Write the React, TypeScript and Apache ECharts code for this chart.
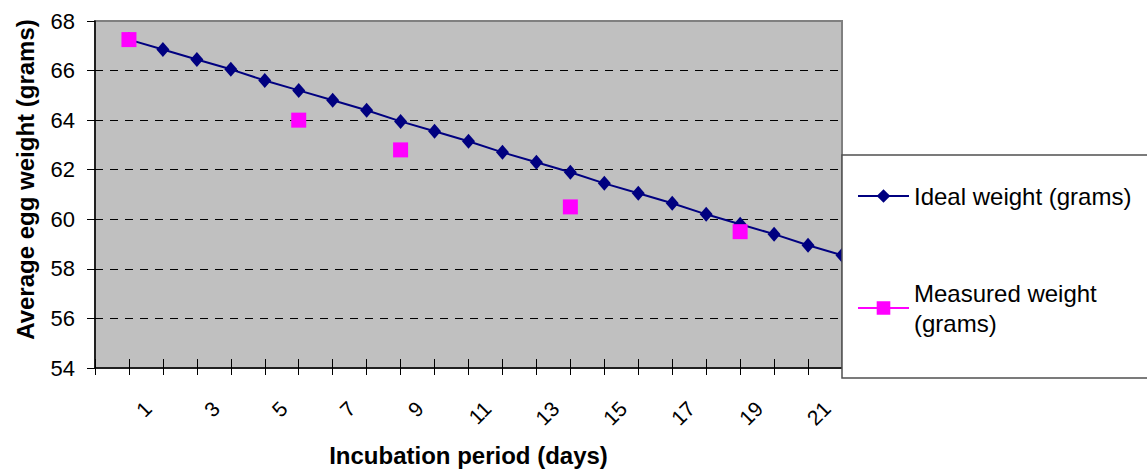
import React, { useEffect, useRef } from "react";
import * as echarts from "echarts";

const IDEAL_NAME = "Ideal weight (grams)";
const MEASURED_NAME = "Measured weight (grams)";
const X_TITLE = "Incubation period (days)";
const Y_TITLE = "Average egg weight (grams)";

const days = [1, 2, 3, 4, 5, 6, 7, 8, 9, 10, 11, 12, 13, 14, 15, 16, 17, 18, 19, 20, 21, 22];
const idealWeight = [
  67.25, 66.85, 66.45, 66.05, 65.6, 65.2, 64.8, 64.4, 63.95, 63.55, 63.15,
  62.7, 62.3, 61.9, 61.45, 61.05, 60.65, 60.2, 59.8, 59.4, 58.95, 58.55,
];
const measuredDays = [1, 6, 9, 14, 19];
const measuredWeight = [67.25, 64.0, 62.8, 60.5, 59.5];
const xTickLabels = ["1", "3", "5", "7", "9", "11", "13", "15", "17", "19", "21"];
const xMin = 0;
const xMax = 22;
const yMin = 54;
const yMax = 68;
const yStep = 2;

const FONT = "'Liberation Sans', Arial, sans-serif";

export default function App() {
  const ref = useRef<HTMLDivElement>(null);

  useEffect(() => {
    if (!ref.current) return;
    const chart = echarts.init(ref.current, null, { renderer: "svg" });

    const plotLeft = 95;
    const plotRight = 305;
    const plotTop = 21;
    const plotBottom = 101;
    const labelShift = 19;

    const option: any = {
      animation: false,
      backgroundColor: "#ffffff",
      textStyle: { fontFamily: FONT },
      grid: [
        {
          left: plotLeft,
          right: plotRight,
          top: plotTop,
          bottom: plotBottom,
          show: true,
          backgroundColor: "#C0C0C0",
          borderColor: "#808080",
          borderWidth: 2,
        },
        {
          left: plotLeft + labelShift,
          right: plotRight - labelShift,
          top: plotTop,
          bottom: plotBottom,
          show: false,
        },
      ],
      xAxis: [
        {
          gridIndex: 0,
          type: "value",
          position: "bottom",
          min: xMin,
          max: xMax,
          interval: 1,
          axisLine: { show: true, onZero: false, lineStyle: { color: "#000000", width: 1.5 } },
          axisTick: { show: true, inside: true, length: 9, lineStyle: { color: "#000000", width: 1 } },
          axisLabel: { show: false },
          splitLine: { show: false },
          name: X_TITLE,
          nameLocation: "middle",
          nameGap: 75,
          nameTextStyle: {
            fontFamily: FONT,
            fontSize: 24,
            fontWeight: "bold",
            color: "#000000",
          },
        },
        {
          gridIndex: 0,
          type: "value",
          position: "bottom",
          min: xMin,
          max: xMax,
          interval: 1,
          axisLine: { show: false, onZero: false },
          axisTick: { show: true, inside: false, length: 7, lineStyle: { color: "#000000", width: 1 } },
          axisLabel: { show: false },
          splitLine: { show: false },
        },
        {
          gridIndex: 1,
          type: "value",
          position: "bottom",
          min: xMin,
          max: xMax,
          interval: 1,
          axisLine: { show: false, onZero: false },
          axisTick: { show: false },
          splitLine: { show: false },
          axisLabel: {
            show: true,
            rotate: 45,
            margin: 34,
            fontFamily: FONT,
            fontSize: 21,
            color: "#000000",
            formatter: (v: number) => {
              const s = String(Math.round(v));
              return Math.abs(v - Math.round(v)) < 1e-6 && xTickLabels.indexOf(s) >= 0 ? s : "";
            },
          },
        },
      ],
      yAxis: [
        {
          gridIndex: 0,
          type: "value",
          min: yMin,
          max: yMax,
          interval: yStep,
          axisLine: { show: true, onZero: false, lineStyle: { color: "#000000", width: 1.5 } },
          axisTick: { show: true, inside: false, length: 8, lineStyle: { color: "#000000", width: 1 } },
          axisLabel: {
            margin: 20,
            fontFamily: FONT,
            fontSize: 22,
            color: "#000000",
          },
          splitLine: {
            show: true,
            showMinLine: false,
            showMaxLine: false,
            lineStyle: { color: "#000000", width: 1, type: [8, 7] },
          },
          name: Y_TITLE,
          nameLocation: "middle",
          nameGap: 58,
          nameTextStyle: {
            fontFamily: FONT,
            fontSize: 24,
            fontWeight: "bold",
            color: "#000000",
            padding: [0, 0, 0, 30],
          },
        },
        {
          gridIndex: 1,
          type: "value",
          min: yMin,
          max: yMax,
          show: false,
        },
      ],
      legend: {
        orient: "vertical",
        left: 842,
        top: 155,
        padding: [26, 20, 25, 15],
        itemGap: 52,
        itemWidth: 51,
        itemHeight: 17,
        backgroundColor: "#ffffff",
        borderColor: "#505050",
        borderWidth: 1.5,
        borderRadius: 0,
        selectedMode: false,
        align: "left",
        textStyle: {
          fontFamily: FONT,
          fontSize: 24,
          color: "#000000",
          lineHeight: 30,
        },
        formatter: (name: string) =>
          name === MEASURED_NAME ? "Measured weight\n(grams)" : name,
        data: [
          { name: IDEAL_NAME },
          {
            name: MEASURED_NAME,
            textStyle: { fontFamily: FONT, fontSize: 24, color: "#000000", lineHeight: 30, padding: [30, 0, 0, 0] },
            lineStyle: { color: "#FF00FF", width: 2, opacity: 1 },
          },
        ],
      },
      series: [
        {
          type: "line",
          name: IDEAL_NAME,
          xAxisIndex: 0,
          yAxisIndex: 0,
          data: days.map((d, i) => [d, idealWeight[i]]),
          symbol: "diamond",
          symbolSize: [13, 15],
          showSymbol: true,
          lineStyle: { color: "#000080", width: 2 },
          itemStyle: { color: "#000080" },
          z: 3,
        },
        {
          type: "line",
          name: MEASURED_NAME,
          xAxisIndex: 0,
          yAxisIndex: 0,
          data: measuredDays.map((d, i) => [d, measuredWeight[i]]),
          symbol: "rect",
          symbolSize: 15,
          showSymbol: true,
          lineStyle: { color: "#FF00FF", width: 0, opacity: 0 },
          itemStyle: { color: "#FF00FF" },
          z: 4,
        },
      ],
    };

    chart.setOption(option);
    return () => {
      chart.dispose();
    };
  }, []);

  return (
    <div
      ref={ref}
      style={{
        position: "absolute",
        left: 0,
        top: 0,
        width: 1147,
        height: 472,
        background: "#ffffff",
      }}
    />
  );
}
